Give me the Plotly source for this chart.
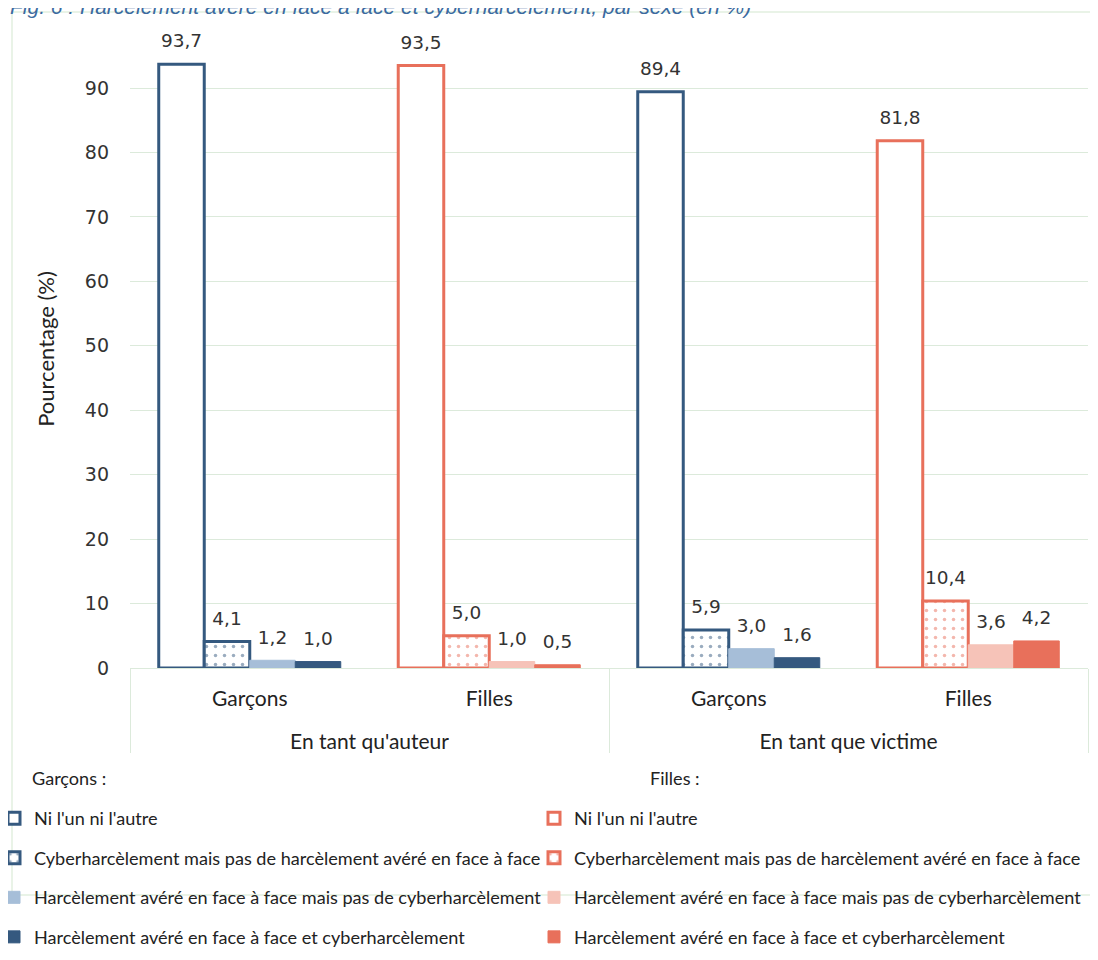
import plotly.graph_objects as go

# ---------------- data ----------------
roles = ["En tant qu'auteur", "En tant que victime"]
sexes = ["Garçons", "Filles"]
series_names = [
    "Ni l'un ni l'autre",
    "Cyberharcèlement mais pas de harcèlement avéré en face à face",
    "Harcèlement avéré en face à face mais pas de cyberharcèlement",
    "Harcèlement avéré en face à face et cyberharcèlement",
]
# values per role: [auteur, victime]
garcons_ni = [93.7, 89.4]
garcons_cyber = [4.1, 5.9]
garcons_face = [1.2, 3.0]
garcons_both = [1.0, 1.6]
filles_ni = [93.5, 81.8]
filles_cyber = [5.0, 10.4]
filles_face = [1.0, 3.6]
filles_both = [0.5, 4.2]

y_ticks = [0, 10, 20, 30, 40, 50, 60, 70, 80, 90]

# ---------------- styles ----------------
W, H = 1098, 960
OFF = 8  # page body margin: the figure is drawn 8px right/down of the page corner
# desired plot area in page pixels: x 130..1088, y 30..668
L, T = 130 - OFF, 30 - OFF
R = W - (1088 - OFF)
B = H - (668 - OFF)
PW, PH = W - L - R, H - T - B

def px_x(px):
    """page pixel x -> paper x"""
    return (px - OFF - L) / PW

def px_y(py):
    """page pixel y -> paper y"""
    return (H - B - (py - OFF)) / PH

BLUE = "#35597f"
BLUE_L = "#a6bed8"
RED = "#e8705b"
RED_L = "#f6c3b8"
TXT = "#333333"
GRID = "#dceadb"
FONT = "Lato, 'Open Sans', sans-serif"
NUM_FONT = "'DejaVu Sans', sans-serif"
LABEL_PAD = 1.5  # gap (in axis units) between bar top and its value label

# top-level axis labels get a leading blank line to sit lower, as in the reference
role_labels = ["<br>" + r for r in roles]

styles = {
    "Garçons": [
        dict(color="white", line=BLUE, pattern=None),
        dict(color="white", line=BLUE, pattern=BLUE),
        dict(color=BLUE_L, line=BLUE_L, pattern=None),
        dict(color=BLUE, line=BLUE, pattern=None),
    ],
    "Filles": [
        dict(color="white", line=RED, pattern=None),
        dict(color="white", line=RED, pattern=RED),
        dict(color=RED_L, line=RED_L, pattern=None),
        dict(color=RED, line=RED, pattern=None),
    ],
}
values = {
    "Garçons": [garcons_ni, garcons_cyber, garcons_face, garcons_both],
    "Filles": [filles_ni, filles_cyber, filles_face, filles_both],
}

bar_w = 0.19
offsets = [-2 * bar_w, -bar_w, 0, bar_w]

fig = go.Figure()
for si, sex in enumerate(sexes):
    for k, name in enumerate(series_names):
        st = styles[sex][k]
        vals = values[sex][k]
        xcat = [role_labels, [sex, sex]]
        outlined = st["color"] == "white"
        marker = dict(
            color=st["color"],
            line=dict(color=st["line"], width=3 if outlined else 1),
        )
        if st["pattern"]:
            marker["pattern"] = dict(shape=".", fgcolor=st["pattern"], bgcolor="white",
                                     size=9, solidity=0.12, fillmode="overlay")
        fig.add_trace(go.Bar(
            name=name,
            x=xcat,
            y=vals,
            width=bar_w,
            offset=offsets[k],
            marker=marker,
            legend="legend" if si == 0 else "legend2",
            legendgroup=f"{sex}{k}",
            showlegend=True,
        ))
        # transparent spacer bar carrying the value label above each bar
        fig.add_trace(go.Bar(
            x=xcat,
            y=[LABEL_PAD] * len(vals),
            base=vals,
            width=bar_w,
            offset=offsets[k],
            marker=dict(color="rgba(0,0,0,0)", line=dict(width=0)),
            text=[f"{v:.1f}".replace(".", ",") for v in vals],
            textposition="outside",
            textfont=dict(family=NUM_FONT, size=18.5, color=TXT),
            cliponaxis=False,
            showlegend=False,
            hoverinfo="skip",
        ))

legend_common = dict(
    font=dict(family=FONT, size=18.1, color="#222"),
    bgcolor="rgba(0,0,0,0)",
    orientation="v",
    yanchor="top",
    xanchor="left",
    traceorder="grouped",
    tracegroupgap=13,
    itemwidth=30,
)

fig.update_layout(
    width=W, height=H,
    margin=dict(l=L, r=R, t=T, b=B, autoexpand=False),
    paper_bgcolor="white",
    plot_bgcolor="white",
    barmode="overlay",
    separators=", ",
    font=dict(family=FONT, color=TXT),
    legend=dict(x=px_x(-6), y=px_y(800), **legend_common),
    legend2=dict(x=px_x(534), y=px_y(800), **legend_common),
    yaxis=dict(
        range=[0, 99],
        tickvals=y_ticks,
        showgrid=True, gridcolor=GRID, gridwidth=1,
        zeroline=False,
        showline=False,
        ticks="",
        automargin=False,
        ticklabelstandoff=20,
        tickfont=dict(family=NUM_FONT, size=19, color=TXT),
        title=dict(text="Pourcentage (%)", font=dict(family=FONT, size=22, color="#222"), standoff=24),
    ),
    xaxis=dict(
        type="multicategory",
        showline=True, linecolor=GRID, linewidth=1,
        showgrid=False,
        showdividers=True, dividercolor=GRID, dividerwidth=1,
        ticks="",
        automargin=False,
        ticklabelstandoff=12,
        tickfont=dict(family=FONT, size=21, color="#222"),
    ),
    showlegend=True,
)

# chart border (light green frame)
fig.add_shape(type="rect", xref="paper", yref="paper",
              x0=px_x(12), x1=px_x(1120), y0=px_y(895), y1=px_y(12),
              line=dict(color="#e2efe0", width=1.5), fillcolor="rgba(0,0,0,0)", layer="below")

# title (partly cut at top, as in reference)
fig.add_annotation(text="<i>Fig. 6 : Harcèlement avéré en face à face et cyberharcèlement, par sexe (en %)</i>",
                   xref="paper", yref="paper", x=px_x(8), y=px_y(6), xanchor="left", yanchor="middle",
                   showarrow=False, font=dict(family="'Liberation Sans', Arial, sans-serif", size=21, color="#3b6aa0"))

# legend headers
fig.add_annotation(text="Garçons :", xref="paper", yref="paper", x=px_x(30), y=px_y(778),
                   xanchor="left", yanchor="middle", showarrow=False,
                   font=dict(family=FONT, size=18.1, color="#222"))
fig.add_annotation(text="Filles :", xref="paper", yref="paper", x=px_x(648), y=px_y(778),
                   xanchor="left", yanchor="middle", showarrow=False,
                   font=dict(family=FONT, size=18.1, color="#222"))

fig.write_html("out.html")
